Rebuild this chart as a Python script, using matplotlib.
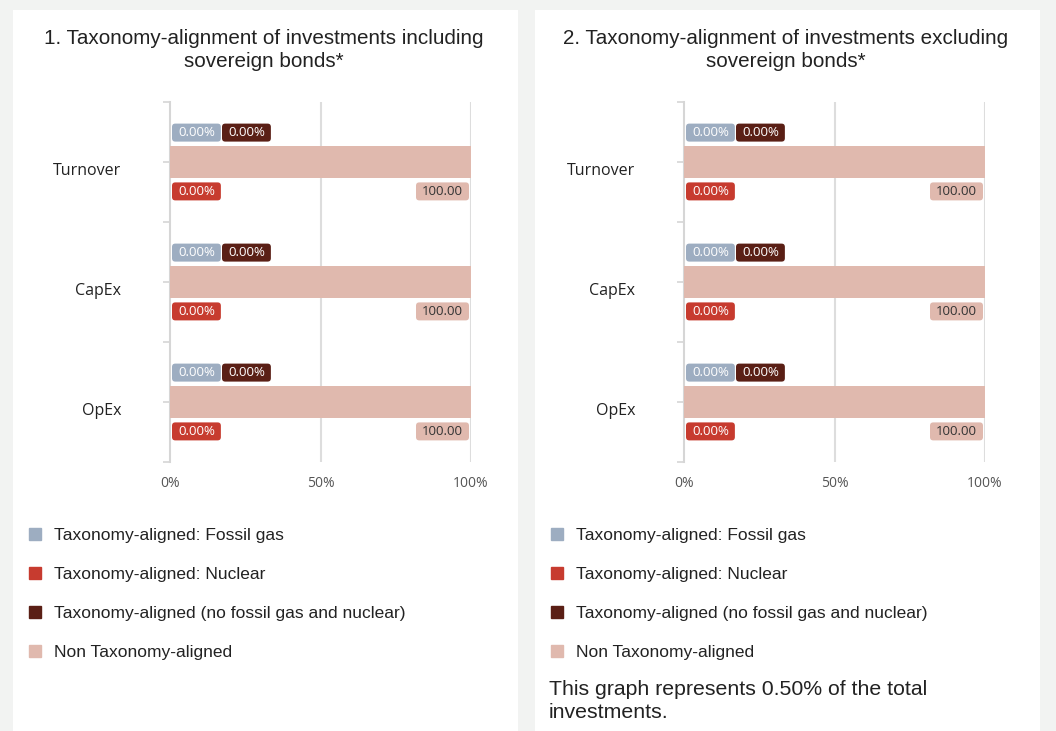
import numpy as np
import matplotlib.pyplot as plt
from matplotlib.patches import Rectangle
from matplotlib.patches import BoxStyle
from matplotlib.lines import Line2D
from matplotlib.transforms import ScaledTranslation

## data
categories = ['Turnover', 'CapEx', 'OpEx']
titles = ['1. Taxonomy-alignment of investments including\nsovereign bonds*',
          '2. Taxonomy-alignment of investments excluding\nsovereign bonds*']
fossil_gas = [[0.0, 0.0, 0.0], [0.0, 0.0, 0.0]]
nuclear = [[0.0, 0.0, 0.0], [0.0, 0.0, 0.0]]
aligned_other = [[0.0, 0.0, 0.0], [0.0, 0.0, 0.0]]
non_aligned = [[100.0, 100.0, 100.0], [100.0, 100.0, 100.0]]
legend_labels = ['Taxonomy-aligned: Fossil gas', 'Taxonomy-aligned: Nuclear',
                 'Taxonomy-aligned (no fossil gas and nuclear)', 'Non Taxonomy-aligned']
xticks = [0, 50, 100]
footnote = 'This graph represents 0.50% of the total\ninvestments.'

c_gas = '#9dadc1'
c_nuc = '#c73b2f'
c_alig = '#5a1f15'
c_non = '#e0b9ae'

W, H = 1056, 731
fig = plt.figure(figsize=(W / 100, H / 100), dpi=100)
fig.patch.set_facecolor('#f2f3f2')


def fx(px):
    return px / W


def fy(py):
    return 1 - py / H


def badge_box(x0, y0, width, height, mutation_size):
    # wider horizontal padding than vertical, like the chart.js labels
    px, py = 6, 2.5
    return BoxStyle.Round(pad=0, rounding_size=0.25)(x0 - px, y0 - py, width + 2 * px,
                                                      height + 2 * py, mutation_size)


def badge(ax, x, y, text, fc, tc, ha='left', dx=0):
    ax.annotate(text, (x, y), xytext=(dx, 0), textcoords='offset pixels',
                ha=ha, va='center', fontsize=9.5, color=tc, family='Open Sans',
                bbox=dict(boxstyle=badge_box, fc=fc, ec='none'), zorder=5)


panel_x = [13, 535]
axis_x = [170, 684]
ypos = np.arange(len(categories))

for p in range(2):
    fig.patches.append(Rectangle((fx(panel_x[p]), 0), fx(505), fy(10), transform=fig.transFigure,
                                 fc='white', ec='none', zorder=-1))
    ax = fig.add_axes([fx(axis_x[p]), fy(462), fx(301), (462 - 102) / H])
    ax.set_facecolor('none')
    ax.set_zorder(2)

    bh = 0.26
    ax.barh(ypos, fossil_gas[p], height=bh, color=c_gas)
    ax.barh(ypos, nuclear[p], height=bh, color=c_nuc)
    ax.barh(ypos, aligned_other[p], height=bh, color=c_alig)
    ax.barh(ypos, non_aligned[p], height=bh, color=c_non, zorder=3)

    for i in range(len(categories)):
        badge(ax, 0, ypos[i] - 0.245, '%.2f%%' % fossil_gas[p][i], c_gas, 'white', dx=8)
        badge(ax, 0, ypos[i] - 0.245, '%.2f%%' % aligned_other[p][i], c_alig, 'white', dx=58)
        badge(ax, 0, ypos[i] + 0.245, '%.2f%%' % nuclear[p][i], c_nuc, 'white', dx=8)
        badge(ax, non_aligned[p][i], ypos[i] + 0.245, '%.2f' % non_aligned[p][i], c_non, '#333333',
              ha='right', dx=-8)

    ax.set_xlim(0, 100)
    ax.set_ylim(len(categories) - 0.5, -0.5)
    ax.set_xticks(xticks)
    ax.set_xticklabels(['%d%%' % t for t in xticks], family='Open Sans', fontsize=10, color='#555555')
    ax.tick_params(axis='x', length=0, pad=10)
    ax.set_yticks(ypos)
    ax.set_yticks([-0.5, 0.5, 1.5, 2.5], minor=True)
    ax.set_yticklabels(categories, family='Open Sans', fontsize=11.5, color='#222222')
    ax.tick_params(axis='y', which='both', length=5, color='#d6d6d6', width=1.2, pad=30)
    for lab in ax.get_yticklabels():
        lab.set_transform(lab.get_transform() + ScaledTranslation(0, -7 / 100, fig.dpi_scale_trans))
    for s in ['top', 'right', 'bottom']:
        ax.spines[s].set_visible(False)
    ax.spines['left'].set_color('#d6d6d6')
    ax.spines['left'].set_linewidth(1.5)
    for t in xticks[1:]:
        ax.axvline(t, color='#dddddd', lw=1.5, zorder=1)

    cx = panel_x[p] + 251
    fig.text(fx(cx), fy(29), titles[p], ha='center', va='top', fontsize=14.9,
             family='Liberation Sans', color='#222222', linespacing=1.25)

    handles = [Line2D([], [], ls='none', marker='s', markersize=8, color=c) for c in
               [c_gas, c_nuc, c_alig, c_non]]
    fig.legend(handles, legend_labels, loc='upper left',
               bbox_to_anchor=(fx(panel_x[p] - 2), fy(512)), frameon=False,
               prop={'family': 'Liberation Sans', 'size': 12.5}, labelcolor='#222222',
               labelspacing=1.38, handletextpad=0.6, handlelength=1.0)

fig.text(fx(549), fy(680), footnote, ha='left', va='top', fontsize=15.3,
         family='Liberation Sans', color='#222222', linespacing=1.3)

fig.savefig('out.png', dpi=100, facecolor=fig.get_facecolor())
